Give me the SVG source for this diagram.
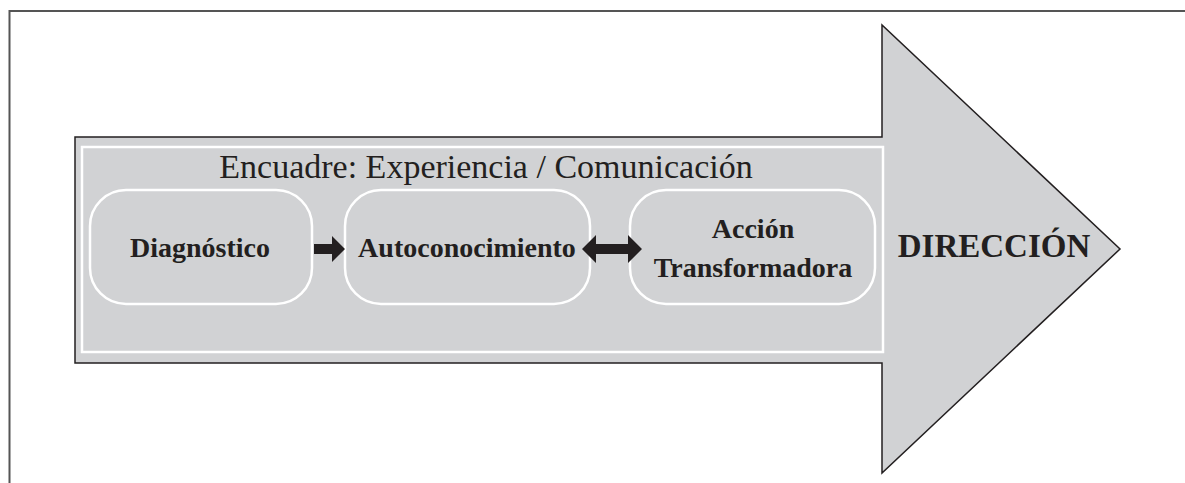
<svg xmlns="http://www.w3.org/2000/svg" width="1185" height="483" viewBox="0 0 1185 483">
<style>
.frame{fill:none;stroke:#555;stroke-width:2}
.big{fill:#d1d2d4;stroke:#231f20;stroke-width:1.5}
.inner{fill:none;stroke:#fff;stroke-width:2.5}
.box{fill:#d1d2d4;stroke:#fff;stroke-width:2.5}
.lbl{font-family:"Liberation Serif",serif;font-weight:bold;font-size:28px;fill:#231f20;text-anchor:middle}
.title{font-family:"Liberation Serif",serif;font-size:34px;fill:#231f20;text-anchor:middle}
.conn{fill:#231f20;stroke:none}
</style>
<path class="frame" d="M9.5,483 V11 H1185"/>
<g id="direccion">
<path class="big" d="M75,137 H882 V25 L1120,249 L882,473 V363 H75 Z"/>
<text x="994" y="257" font-family="Liberation Serif, serif" font-weight="bold" font-size="33" fill="#231f20" text-anchor="middle">DIRECCIÓN</text>
</g>
<g id="encuadre">
<rect class="inner" x="82" y="147" width="801" height="205"/>
<text class="title" x="486" y="178">Encuadre: Experiencia / Comunicación</text>
</g>
<g id="diagnostico">
<rect class="box" x="90" y="190" width="222" height="114" rx="36" ry="36"/>
<text class="lbl" x="200" y="257">Diagnóstico</text>
</g>
<g id="autoconocimiento">
<rect class="box" x="345" y="190" width="245" height="114" rx="36" ry="36"/>
<text class="lbl" x="467" y="257">Autoconocimiento</text>
</g>
<g id="accion">
<rect class="box" x="630" y="190" width="245" height="114" rx="36" ry="36"/>
<text class="lbl" x="753" y="238">Acción</text>
<text class="lbl" x="753" y="277">Transformadora</text>
</g>
<g id="connectors">
<path class="conn" d="M314,244 H332 V236 L345,249 L332,262 V254 H314 Z"/>
<path class="conn" d="M582,249 L596,235 V244 H628 V235 L642,249 L628,263 V254 H596 V263 Z"/>
</g>
</svg>
